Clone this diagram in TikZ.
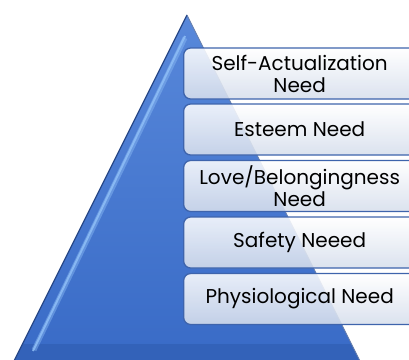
\documentclass[tikz,border=0pt]{standalone}
\usepackage{fontspec}
\setmainfont{Poppins}
\usetikzlibrary{shadings}
\definecolor{triA}{RGB}{88,136,218}
\definecolor{triB}{RGB}{56,106,198}
\definecolor{triC}{RGB}{44,88,170}
\definecolor{triEdge}{RGB}{40,72,135}
\definecolor{triHi}{RGB}{140,188,245}
\definecolor{boxEdge}{RGB}{62,100,172}
\definecolor{boxBot}{RGB}{214,222,236}
\tikzset{
  needbox/.style={draw=boxEdge, line width=1.3pt, rounded corners=7pt,
    top color=white, bottom color=boxBot, fill opacity=0.88, text opacity=1,
    anchor=west, minimum width=232pt, minimum height=51pt, inner sep=0pt,
    align=center, font=\fontsize{20}{22}\selectfont, text=black},
}
\begin{document}
\begin{tikzpicture}[x=1pt,y=-1pt]
\useasboundingbox (0,0) rectangle (409,359);
\clip (0,0) rectangle (409,359);
% pyramid
\coordinate (apex) at (187,15);
\coordinate (bl) at (10,369);
\coordinate (br) at (364,369);
\shade[top color=triA, bottom color=triB] (apex) -- (bl) -- (br) -- cycle;
\begin{scope}
\clip (apex) -- (bl) -- (br) -- cycle;
% bottom darker band
\fill[triC, opacity=0.45] (0,344) rectangle (409,369);
% left bevel highlight
\draw[triHi, opacity=0.45, line width=5pt] (185,38) -- (34,350);
\draw[triHi, opacity=0.9, line width=2pt] (185,36) -- (33,351);
\end{scope}
\draw[triEdge, line width=1.2pt] (apex) -- (bl);
\draw[triEdge!70, line width=0.8pt] (apex) -- (br);
% boxes
\node[needbox] (b1) at (183,73.5) {Self-Actualization\\Need};
\node[needbox] (b2) at (183,129.5) {Esteem Need};
\node[needbox] (b3) at (183,186) {Love/Belongingness\\Need};
\node[needbox] (b4) at (183,242.5) {Safety Neeed};
\node[needbox] (b5) at (183,299) {Physiological Need};
\end{tikzpicture}
\end{document}
